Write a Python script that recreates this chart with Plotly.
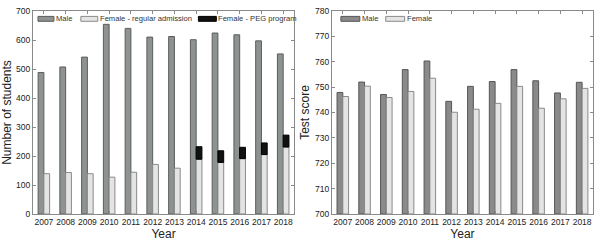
import plotly.graph_objects as go

years = [2007, 2008, 2009, 2010, 2011, 2012, 2013, 2014, 2015, 2016, 2017, 2018]

# Left panel: number of students
male_students = [488, 507, 541, 654, 640, 610, 612, 601, 624, 618, 597, 552]
female_regular = [139, 143, 139, 127, 144, 171, 158, 189, 178, 191, 205, 231]
female_peg = [None, None, None, None, None, None, None, 43, 40, 39, 40, 41]

# Right panel: test score
male_score = [747.9, 752.0, 747.1, 756.9, 760.3, 744.4, 750.3, 752.2, 756.9, 752.5, 747.7, 751.9]
female_score = [746.3, 750.4, 745.9, 748.3, 753.5, 740.1, 741.3, 743.6, 750.3, 741.7, 745.4, 749.5]

names_left = ["Male", "Female - regular admission", "Female - PEG program"]
names_right = ["Male", "Female"]

MALE_FILL = "#8e9290"
MALE_LINE = "#5a5d5c"
MALE2_FILL = "#8a8a8a"
MALE2_LINE = "#555555"
FEM_FILL = "#e4e4e4"
FEM_LINE = "#8a8a8a"
PEG_FILL = "#111111"
PEG_LINE = "#000000"

fig = go.Figure()

fig.add_trace(go.Bar(x=years, y=male_students, name=names_left[0], offsetgroup="m",
                     marker=dict(color=MALE_FILL, line=dict(color=MALE_LINE, width=1)),
                     xaxis="x", yaxis="y", showlegend=False))
fig.add_trace(go.Bar(x=years, y=female_regular, name=names_left[1], offsetgroup="f",
                     marker=dict(color=FEM_FILL, line=dict(color=FEM_LINE, width=1)),
                     xaxis="x", yaxis="y", showlegend=False))
fig.add_trace(go.Bar(x=years, y=female_peg, base=female_regular, name=names_left[2], offsetgroup="f",
                     marker=dict(color=PEG_FILL, line=dict(color=PEG_LINE, width=1)),
                     xaxis="x", yaxis="y", showlegend=False))

fig.add_trace(go.Bar(x=years, y=[v - 700 for v in male_score], base=700, name=names_right[0], offsetgroup="m",
                     marker=dict(color=MALE2_FILL, line=dict(color=MALE2_LINE, width=1)),
                     xaxis="x2", yaxis="y2", showlegend=False))
fig.add_trace(go.Bar(x=years, y=[v - 700 for v in female_score], base=700, name=names_right[1], offsetgroup="f",
                     marker=dict(color=FEM_FILL, line=dict(color=FEM_LINE, width=1)),
                     xaxis="x2", yaxis="y2", showlegend=False))

FONT = "Liberation Sans, Arial, sans-serif"
axis_common = dict(showline=True, linecolor="#8a8a8a", linewidth=1, mirror="ticks",
                   ticks="inside", ticklen=3, tickcolor="#8a8a8a", showgrid=False, zeroline=False,
                   tickfont=dict(family=FONT, size=8.5, color="#222222"))

W, H = 600, 242
ml, mr, mt, mb = 32, 6, 8, 27
pw = W - ml - mr
ph = H - mt - mb
x1d = [0, (294 - ml) / pw]
x2d = [(332 - ml) / pw, 1.0]


def px(xp):
    return (xp - ml) / pw


def py(yp):
    return (H - mb - yp) / ph


# Compact legends (swatch + label), laid out like the reference
legend_items = [
    (37, 53, names_left[0], MALE_FILL, MALE_LINE),
    (80, 97, names_left[1], FEM_FILL, FEM_LINE),
    (198, 216, names_left[2], PEG_FILL, PEG_LINE),
    (341, 360, names_right[0], MALE2_FILL, MALE2_LINE),
    (386, 405, names_right[1], FEM_FILL, FEM_LINE),
]
shapes = []
annotations = []
for x0, x1, label, fill, line in legend_items:
    shapes.append(dict(type="rect", xref="paper", yref="paper",
                       x0=px(x0), x1=px(x1), y0=py(18.5), y1=py(13.5),
                       fillcolor=fill, line=dict(color=line, width=1)))
    annotations.append(dict(text=label, xref="paper", yref="paper", x=px(x1), y=py(16),
                            xanchor="left", yanchor="middle", showarrow=False,
                            font=dict(family=FONT, size=7.6, color="#333333")))

fig.update_layout(
    width=W, height=H,
    margin=dict(l=ml, r=mr, t=mt, b=mb),
    paper_bgcolor="white", plot_bgcolor="white",
    barmode="group", bargap=0.47, bargroupgap=0,
    font=dict(family=FONT, size=9, color="#222222"),
    xaxis=dict(domain=x1d, range=[2006.5, 2018.5], tickvals=years, tickangle=0, anchor="y",
               title=dict(text="Year", font=dict(size=12), standoff=0), **axis_common),
    yaxis=dict(domain=[0, 1], range=[0, 700], dtick=100, anchor="x",
               title=dict(text="Number of students", font=dict(size=12), standoff=2), **axis_common),
    xaxis2=dict(domain=x2d, range=[2006.5, 2018.5], tickvals=years, tickangle=0, anchor="y2",
                title=dict(text="Year", font=dict(size=12), standoff=0), **axis_common),
    yaxis2=dict(domain=[0, 1], range=[700, 780], dtick=10, anchor="x2",
                title=dict(text="Test score", font=dict(size=12), standoff=2), **axis_common),
    shapes=shapes,
    annotations=annotations,
    showlegend=False,
)

fig.write_html("out.html", config={"displayModeBar": False},
               post_script="document.body.style.margin='0';document.body.style.overflow='hidden';")
